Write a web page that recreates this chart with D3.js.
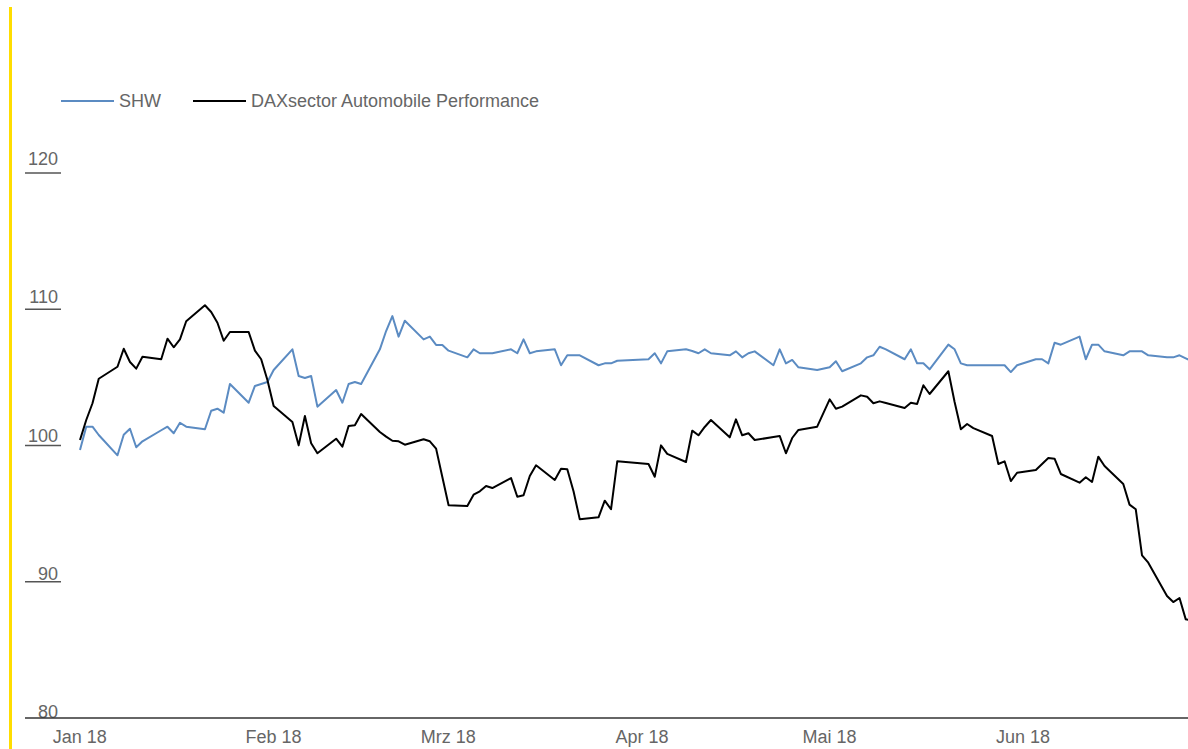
<!DOCTYPE html>
<html>
<head>
<meta charset="utf-8">
<script src="https://cdn.jsdelivr.net/npm/d3@7"></script>
<style>
  body { margin: 0; background: #fff; }
  svg { display: block; font-family: "Liberation Sans", Arial, sans-serif; }
  .lbl { fill: #666; font-size: 18px; }
</style>
</head>
<body>
<svg class="chart"></svg>
<script>
// trading days with the two rebased series
var dates = [
  "2018-01-02","2018-01-03","2018-01-04","2018-01-05","2018-01-08","2018-01-09","2018-01-10","2018-01-11","2018-01-12",
  "2018-01-15","2018-01-16","2018-01-17","2018-01-18","2018-01-19","2018-01-22","2018-01-23","2018-01-24","2018-01-25","2018-01-26",
  "2018-01-29","2018-01-30","2018-01-31","2018-02-01","2018-02-02","2018-02-05","2018-02-06","2018-02-07","2018-02-08","2018-02-09",
  "2018-02-12","2018-02-13","2018-02-14","2018-02-15","2018-02-16","2018-02-19","2018-02-20","2018-02-21","2018-02-22","2018-02-23",
  "2018-02-26","2018-02-27","2018-02-28","2018-03-01","2018-03-02","2018-03-05","2018-03-06","2018-03-07","2018-03-08","2018-03-09",
  "2018-03-12","2018-03-13","2018-03-14","2018-03-15","2018-03-16","2018-03-19","2018-03-20","2018-03-21","2018-03-22","2018-03-23",
  "2018-03-26","2018-03-27","2018-03-28","2018-03-29","2018-04-03","2018-04-04","2018-04-05","2018-04-06",
  "2018-04-09","2018-04-10","2018-04-11","2018-04-12","2018-04-13","2018-04-16","2018-04-17","2018-04-18","2018-04-19","2018-04-20",
  "2018-04-23","2018-04-24","2018-04-25","2018-04-26","2018-04-27","2018-04-30","2018-05-02","2018-05-03","2018-05-04",
  "2018-05-07","2018-05-08","2018-05-09","2018-05-10","2018-05-11","2018-05-14","2018-05-15","2018-05-16","2018-05-17","2018-05-18",
  "2018-05-21","2018-05-22","2018-05-23","2018-05-24","2018-05-25","2018-05-28","2018-05-29","2018-05-30","2018-05-31","2018-06-01",
  "2018-06-04","2018-06-05","2018-06-06","2018-06-07","2018-06-08","2018-06-11","2018-06-12","2018-06-13","2018-06-14","2018-06-15",
  "2018-06-18","2018-06-19","2018-06-20","2018-06-21","2018-06-22","2018-06-25","2018-06-26","2018-06-27","2018-06-28","2018-06-29"
];

var shw = [
  99.67,101.38,101.38,100.77,99.28,100.79,101.23,99.87,100.31,
  101.12,101.38,100.90,101.67,101.38,101.19,102.55,102.70,102.41,104.51,
  103.14,104.37,104.51,104.66,105.54,107.06,105.10,104.95,105.10,102.85,
  104.07,103.14,104.51,104.66,104.51,107.06,108.40,109.50,107.99,109.16,
  107.79,107.99,107.38,107.38,106.96,106.47,107.06,106.77,106.77,106.77,
  107.06,106.77,107.79,106.77,106.91,107.06,105.89,106.62,106.62,106.62,
  105.89,106.03,106.03,106.22,106.33,106.77,106.03,106.91,
  107.06,106.94,106.77,107.06,106.77,106.62,106.91,106.47,106.77,106.91,
  105.89,107.06,106.03,106.28,105.74,105.54,105.74,106.18,105.45,
  106.03,106.47,106.62,107.25,107.06,106.33,107.06,106.03,106.03,105.59,
  107.40,107.06,106.03,105.89,105.89,105.89,105.89,105.89,105.39,105.89,
  106.33,106.33,106.03,107.54,107.40,107.99,106.33,107.40,107.40,106.91,
  106.62,106.91,106.91,106.91,106.62,106.47,106.47,106.62,106.40,106.18
];

var dax = [
  100.40,101.87,103.10,104.90,105.78,107.10,106.13,105.64,106.52,
  106.33,107.84,107.21,107.79,109.12,110.29,109.80,109.01,107.69,108.33,
  108.33,106.96,106.33,104.81,102.90,101.72,100.01,102.17,100.16,99.43,
  100.50,99.91,101.43,101.48,102.31,100.99,100.65,100.35,100.31,100.06,
  100.46,100.31,99.77,97.69,95.61,95.56,96.39,96.64,97.03,96.88,
  97.61,96.24,96.35,97.76,98.55,97.47,98.30,98.25,96.64,94.58,
  94.73,95.95,95.32,98.84,98.64,97.71,100.01,99.38,
  98.79,101.09,100.75,101.36,101.87,100.60,101.92,100.75,100.90,100.40,
  100.62,100.70,99.43,100.55,101.14,101.38,103.39,102.70,102.85,
  103.68,103.58,103.10,103.24,103.12,102.75,103.14,103.05,104.42,103.78,
  105.45,103.19,101.19,101.58,101.28,100.70,98.64,98.84,97.39,98.00,
  98.20,98.64,99.08,99.03,97.91,97.27,97.67,97.32,99.18,98.50,
  97.17,95.66,95.32,91.94,91.40,88.95,88.51,88.81,87.24,87.15
];

var seriesNames = ["SHW", "DAXsector Automobile Performance"];
var seriesColors = ["#5b8bc2", "#000000"];
var yTicks = [80, 90, 100, 110, 120];
var monthTicks = ["2018-01-01","2018-02-01","2018-03-01","2018-04-01","2018-05-01","2018-06-01"];
var monthNames = ["Jan", "Feb", "Mrz", "Apr", "Mai", "Jun"];

function show() {
    'use strict';

    var W = 1188, H = 749;
    var left = 80, axisLeft = 25;

    var svg = d3.select(".chart")
        .attr("width", W)
        .attr("height", H);

    var parse = d3.timeParse("%Y-%m-%d");

    var x = d3.scaleTime()
        .domain([parse(dates[0]), parse(dates[dates.length - 1])])
        .range([left, 1192]);

    var y = d3.scaleLinear()
        .domain([80, 120])
        .range([718, 173]);

    // labels sit a little higher at the top than at the bottom
    var yLabel = d3.scaleLinear()
        .domain([80, 120])
        .range([718, 165]);

    // yellow accent bar on the left
    svg.append("rect")
        .attr("x", 9).attr("y", 7)
        .attr("width", 3).attr("height", H - 7)
        .attr("fill", "#ffdd00");

    svg.append("defs").append("clipPath").attr("id", "plot")
      .append("rect")
        .attr("x", 0).attr("y", 0)
        .attr("width", W).attr("height", H);

    // y ticks: short line under each label
    var yt = svg.append("g").selectAll("g").data(yTicks).enter().append("g");

    yt.filter(d => d !== 80).append("line")
        .attr("x1", axisLeft).attr("x2", 61)
        .attr("y1", d => y(d)).attr("y2", d => y(d))
        .attr("stroke", "#555").attr("stroke-width", 1.5);

    yt.append("text")
        .attr("class", "lbl")
        .attr("x", 58)
        .attr("y", d => yLabel(d))
        .attr("text-anchor", "end")
        .text(d => d);

    // x axis
    var xAxis = d3.axisBottom(x)
        .tickValues(monthTicks.map(parse))
        .tickSize(0)
        .tickPadding(0)
        .tickFormat((d, i) => monthNames[i] + " 18");

    var gx = svg.append("g")
        .attr("transform", "translate(0," + y(80) + ")")
        .call(xAxis);
    gx.select(".domain").remove();
    gx.selectAll("text")
        .attr("class", "lbl")
        .attr("fill", null)
        .attr("font-family", null)
        .attr("font-size", null)
        .attr("dy", null)
        .attr("y", 25)
        .attr("dx", 5.5);

    svg.append("line")
        .attr("x1", axisLeft).attr("x2", W)
        .attr("y1", y(80)).attr("y2", y(80))
        .attr("stroke", "#333").attr("stroke-width", 1.5);

    // series lines
    var series = [shw, dax];
    var line = d3.line()
        .x((d, i) => x(parse(dates[i])))
        .y(d => y(d));

    svg.append("g").attr("clip-path", "url(#plot)")
      .selectAll("path").data(series).enter().append("path")
        .attr("d", d => line(d))
        .attr("fill", "none")
        .attr("stroke", (d, i) => seriesColors[i])
        .attr("stroke-width", 2)
        .attr("stroke-linejoin", "round");

    // legend
    var legendX = [61, 193];
    var lg = svg.append("g").selectAll("g").data(seriesNames).enter().append("g")
        .attr("transform", (d, i) => "translate(" + legendX[i] + ",101)");

    lg.append("line")
        .attr("x1", 0).attr("x2", 53)
        .attr("stroke", (d, i) => seriesColors[i])
        .attr("stroke-width", 2);

    lg.append("text")
        .attr("class", "lbl")
        .attr("x", 58)
        .attr("dy", "0.35em")
        .text(d => d);
}

show();
</script>
</body>
</html>
